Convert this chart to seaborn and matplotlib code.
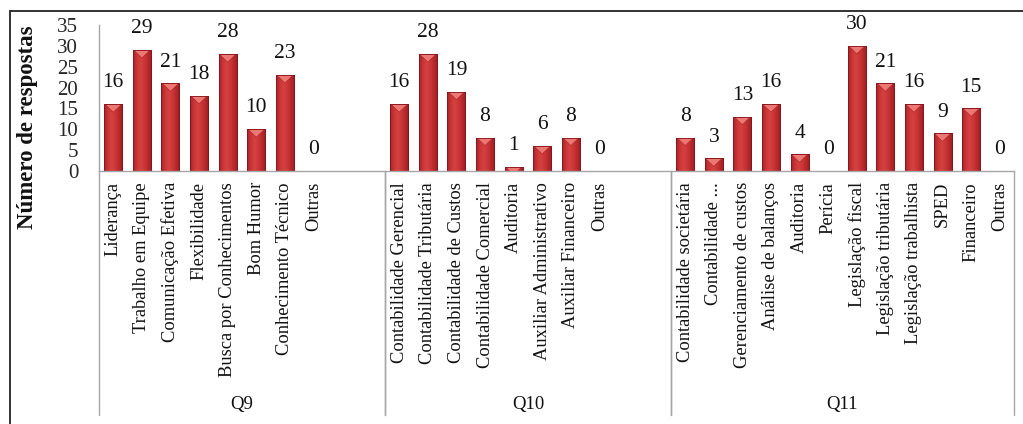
import numpy as np
import pandas as pd
import matplotlib
matplotlib.use("Agg")
import matplotlib.pyplot as plt
import matplotlib.transforms as mtransforms
from matplotlib.colors import LinearSegmentedColormap
from matplotlib.patches import Polygon, Rectangle
import seaborn as sns

# ---- data -------------------------------------------------------------
q9_labels = ["Liderança", "Trabalho em Equipe", "Comunicação Efetiva",
             "Flexibilidade", "Busca por Conhecimentos", "Bom Humor",
             "Conhecimento Técnico", "Outras"]
q9_values = [16, 29, 21, 18, 28, 10, 23, 0]

q10_labels = ["Contabilidade Gerencial", "Contabilidade Tributária",
              "Contabilidade de Custos", "Contabilidade Comercial",
              "Auditoria", "Auxiliar Administrativo", "Auxiliar Financeiro",
              "Outras"]
q10_values = [16, 28, 19, 8, 1, 6, 8, 0]

q11_labels = ["Contabilidade societária", "Contabilidade ...",
              "Gerenciamento de custos", "Análise de balanços", "Auditoria",
              "Perícia", "Legislação fiscal", "Legislação tributária",
              "Legislação trabalhista", "SPED", "Financeiro", "Outras"]
q11_values = [8, 3, 13, 16, 4, 0, 30, 21, 16, 9, 15, 0]

groups = ["Q9", "Q10", "Q11"]
y_ticks = [0, 5, 10, 15, 20, 25, 30, 35]
y_title = "Número de respostas"

# empty category slots left at the end of each question block
blank_slots = [2, 2, 0]

# ---- long table + category order ---------------------------------------
rows, order, tick_text, group_span = [], [], [], []
for g, labels, values, pad in zip(groups, [q9_labels, q10_labels, q11_labels],
                                  [q9_values, q10_values, q11_values], blank_slots):
    start = len(order)
    for lab, v in zip(labels, values):
        key = f"{g}|{lab}"
        rows.append({"slot": key, "group": g, "value": v})
        order.append(key)
        tick_text.append(lab)
    for k in range(pad):
        order.append(f"{g}|blank{k}")
        tick_text.append("")
    group_span.append((start - 0.5, len(order) - 0.5))
df = pd.DataFrame(rows)

# ---- style ----------------------------------------------------------------
sns.set_style("white")
plt.rcParams["font.family"] = ["Liberation Serif", "DejaVu Serif"]

W, H, DPI = 1023, 424, 100
fig = plt.figure(figsize=(W / DPI, H / DPI), dpi=DPI)
ax_left, ax_right, ax_top, ax_bottom = 99, 1014, 25, 171
ax = fig.add_axes([ax_left / W, 1 - ax_bottom / H,
                   (ax_right - ax_left) / W, (ax_bottom - ax_top) / H])

bar_red = "#C6322F"
sns.barplot(data=df, x="slot", y="value", order=order, color=bar_red,
            saturation=1, width=0.63, errorbar=None, ax=ax,
            edgecolor="#8A1619", linewidth=0.6)

ax.set_xlim(-0.5, len(order) - 0.5)
ax.set_ylim(0, 35)

# shaded face + bevelled top on every bar
shade = LinearSegmentedColormap.from_list(
    "barshade", ["#A52428", "#C93436", "#D4423F", "#CC3739", "#B62A2D", "#9B1D21"])
grad = np.linspace(0, 1, 64).reshape(1, -1)
px_per_unit = (ax_bottom - ax_top) / 35.0
tri_h = 8 / px_per_unit
bars = ax.containers[0]
for bar in bars:
    x0, y0 = bar.get_x(), bar.get_y()
    w, h = bar.get_width(), bar.get_height()
    if not np.isfinite(h) or h <= 0:
        continue
    im = ax.imshow(grad, extent=[x0, x0 + w, y0, y0 + h], aspect="auto",
                   cmap=shade, interpolation="bicubic", zorder=bar.get_zorder() + 0.1)
    im.set_clip_path(bar)
    top = y0 + h
    tri = Polygon([(x0 + w * 0.04, top), (x0 + w * 0.96, top), (x0 + w / 2, top - tri_h)],
                  closed=True, facecolor="#EC7874", edgecolor="#B7272A", linewidth=0.5,
                  zorder=bar.get_zorder() + 0.2)
    ax.add_patch(tri)
    tri.set_clip_path(bar)
    outline = Rectangle((x0, y0), w, h, fill=False, edgecolor="#85151A",
                        linewidth=0.6, zorder=bar.get_zorder() + 0.3)
    ax.add_patch(outline)

ax.set_xlim(-0.5, len(order) - 0.5)
ax.set_ylim(0, 35)

# value labels
ax.bar_label(bars, fmt="%g", padding=8.5, fontsize=15.5, color="#111111")

# axes styling
for side in ["top", "right"]:
    ax.spines[side].set_visible(False)
for side in ["left", "bottom"]:
    ax.spines[side].set_color("#A6A6A6")
    ax.spines[side].set_linewidth(1.0)
ax.set_yticks(y_ticks)
ax.set_yticklabels([str(t) for t in y_ticks], fontsize=15)
ax.tick_params(axis="y", length=0, pad=15)
ax.set_xticks(range(len(order)))
ax.set_xticklabels(tick_text, rotation=90, ha="center", va="top", fontsize=13.3,
                   color="#111111")
ax.tick_params(axis="x", length=0, pad=8)
ax.set_xlabel("")
ax.set_ylabel("")

# multi-level category axis: dividers and question labels
trans = mtransforms.blended_transform_factory(ax.transData, ax.transAxes)
drop = -(415 - ax_bottom) / (ax_bottom - ax_top)
for (lo, hi), g in zip(group_span, groups):
    for xpos in (lo, hi):
        ax.plot([xpos, xpos], [0, drop], transform=trans, color="#A6A6A6",
                lw=1.0, clip_on=False, zorder=1)
    ax.text((lo + hi) / 2, -(405 - ax_bottom) / (ax_bottom - ax_top), g,
            transform=trans, ha="center", va="center", fontsize=13.5, color="#111111")

# axis title
fig.text(28 / W, 1 - 127 / H, y_title, rotation=90, ha="center", va="center",
         fontsize=16.5, fontweight="bold", color="#111111")

# chart frame
fig.add_artist(Rectangle((10 / W, -0.1), 1.2, 1 - 11 / H + 0.1,
                         transform=fig.transFigure, fill=False,
                         edgecolor="#222222", linewidth=1.3))

fig.savefig("out.png", dpi=DPI)
